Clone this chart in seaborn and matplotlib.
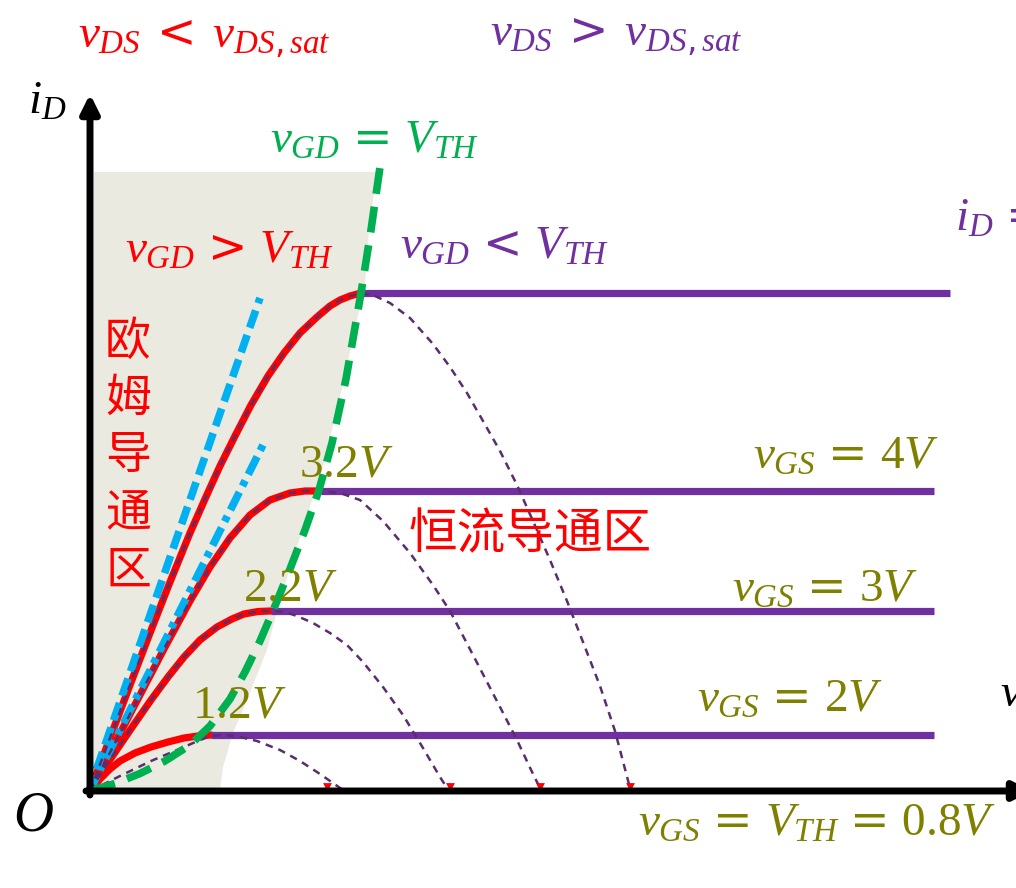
import matplotlib
matplotlib.use("Agg")
import matplotlib.pyplot as plt
import seaborn as sns

# ---- data (v_DS, i_D in drawing units, origin at the axes corner) ----
# saturation (knee) values of each output curve
sat_labels = ["1.2V", "2.2V", "3.2V", ""]
gs_labels = ["2V", "3V", "4V", ""]
sat_x = [121, 181, 231, 271]
sat_y = [56, 180, 300, 498]
flat_end = [844, 844, 844, 860]

# triode-region (ohmic) branches, origin -> knee
tri_x = [
    [0, 10, 20, 30, 45, 61, 78, 94, 108, 121],
    [0, 15, 30, 45, 61, 78, 94, 110, 127, 142, 154, 168, 181],
    [0, 25, 50, 75, 100, 120, 140, 160, 180, 200, 215, 231],
    [0, 20, 40, 60, 80, 100, 115, 130, 145, 161, 178, 194, 210, 227, 240, 250,
     260, 271],
]
tri_y = [
    [0, 12, 22, 30, 38, 44, 49, 53, 55, 56],
    [0, 24, 46, 68, 91, 114, 134, 151, 164, 172, 177, 179.5, 180],
    [0, 48, 96, 144, 190, 224, 253, 276, 291, 298, 300, 300],
    [0, 53, 106, 158, 209, 258, 292, 325, 355, 386, 415, 438, 458, 474, 485,
     491, 495, 498],
]
# full quadratic curves (dashed), continuing past the knee down to the axis
par_x = [
    [0, 30, 61, 94, 110, 121, 135, 150, 167, 190, 210, 230, 253],
    tri_x[1] + [195, 207, 223, 240, 257, 273, 293, 313, 333, 350, 357],
    tri_x[2] + [250, 270, 293, 320, 343, 360, 383, 410, 427, 443, 450],
    tri_x[3] + [285, 300, 320, 343, 360, 377, 393, 410, 427, 443, 460, 477,
                493, 510, 525, 540],
]
par_y = [
    [0, 15, 30, 44, 51, 55, 56, 54, 50, 41, 30, 17, 1],
    tri_y[1] + [179, 175, 168, 158, 146, 129, 104, 76, 43, 14, 3],
    tri_y[2] + [298, 291, 270, 238, 206, 180, 136, 84, 51, 17, 3],
    tri_y[3] + [495, 488, 473, 447, 424, 398, 370, 340, 306, 270, 231, 190,
                149, 105, 60, 3],
]
# zero crossings marked on the v_DS axis
root_x = [237, 360, 450, 540]

# boundary v_GD = V_TH
gd_x = [0, 25, 50, 75, 100, 120, 140, 155, 170, 185, 200, 215, 229, 242, 256,
        271, 281, 290]
gd_y = [0, 7.5, 17.5, 30, 46, 65, 92, 119, 150, 185, 222, 261, 301, 348, 412,
        498, 561, 624]

# ohmic-region shading outline
shade_x = [4, 288, 280, 275, 254, 234, 207, 190, 177, 157, 143, 133, 130, 4]
shade_y = [619, 619, 574, 508, 411, 328, 244, 191, 141, 91, 58, 24, 1, 1]

# small-signal resistance lines through the origin
tan_x = [[-2, 170], [-2, 173]]
tan_y = [[-3, 493], [-3, 346]]

RED = "#FF0000"
PURPLE = "#7030A0"
DPURPLE = "#5A2D6E"
GREEN = "#00B050"
BLUE = "#00B0F0"
OLIVE = "#7F7F00"
SHADE = "#EAEAE0"

sns.set_theme(style="white")
plt.rcParams["font.family"] = ["Noto Sans CJK SC", "DejaVu Sans"]
# italic letters and digits in a serif face, relation signs from DejaVu Sans
plt.rcParams["mathtext.fontset"] = "custom"
plt.rcParams["mathtext.it"] = "Liberation Serif:italic"
plt.rcParams["mathtext.rm"] = "DejaVu Sans"
plt.rcParams["mathtext.sf"] = "Liberation Serif"
plt.rcParams["mathtext.bf"] = "Liberation Serif:bold"

fig = plt.figure(figsize=(10.16, 8.88), dpi=100)
ax = fig.add_axes([0, 0, 1, 1])
ax.set_xlim(-90, 926)
ax.set_ylim(-97, 791)
ax.axis("off")

# shaded ohmic region
ax.fill(shade_x, shade_y, color=SHADE, lw=0, zorder=1)

# tangent (resistance) lines
sns.lineplot(x=tan_x[0], y=tan_y[0], ax=ax, color=BLUE, lw=5.5, sort=False,
             estimator=None, zorder=4)
ax.lines[-1].set_dashes([2.4, 1.0])
ax.lines[-1].set_dash_capstyle("butt")
sns.lineplot(x=tan_x[1], y=tan_y[1], ax=ax, color=BLUE, lw=5.5, sort=False,
             estimator=None, zorder=4)
ax.lines[-1].set_dashes([2.6, 0.9, 0.8, 0.9])
ax.lines[-1].set_dash_capstyle("butt")

for i in range(4):
    # ohmic branch
    sns.lineplot(x=tri_x[i], y=tri_y[i], ax=ax, color=RED, lw=5.2, sort=False,
                 estimator=None, zorder=3, solid_capstyle="round",
                 solid_joinstyle="round")
    # saturation branch
    sns.lineplot(x=[sat_x[i], flat_end[i]], y=[sat_y[i], sat_y[i]], ax=ax,
                 color=PURPLE, lw=5.2, sort=False, estimator=None, zorder=3,
                 solid_capstyle="butt")
    # quadratic continuation
    sns.lineplot(x=par_x[i], y=par_y[i], ax=ax, color=DPURPLE, lw=1.8,
                 sort=False, estimator=None, zorder=5)
    ax.lines[-1].set_dashes([3.0, 2.4])

# boundary curve
sns.lineplot(x=gd_x, y=gd_y, ax=ax, color=GREEN, lw=5.5, sort=False,
             estimator=None, zorder=6)
ax.lines[-1].set_dashes([3.4, 1.7])
ax.lines[-1].set_dash_capstyle("butt")

# zero-crossing markers
ax.scatter(root_x, [4] * len(root_x), marker="v", s=40, color=RED, lw=0, zorder=7)

# axes with arrows
ax.annotate("", xy=(0, 697), xytext=(0, -4),
            arrowprops=dict(arrowstyle="-|>,head_length=0.9,head_width=0.45",
                            lw=5, color="black", shrinkA=0, shrinkB=0),
            zorder=8, annotation_clip=False)
ax.annotate("", xy=(942, 0), xytext=(-4, 0),
            arrowprops=dict(arrowstyle="-|>,head_length=0.9,head_width=0.45",
                            lw=5, color="black", shrinkA=0, shrinkB=0),
            zorder=8, annotation_clip=False)

MS = 34  # math label size


def mtext(x, y, s, color, size=MS, ha="left", va="center", z=9):
    ax.text(x, y, s, color=color, fontsize=size, ha=ha, va=va, zorder=z)


def num(s):
    # upright serif digits followed by an italic unit letter
    return r"\mathsf{" + s[:-1] + "}" + s[-1]


mtext(-12, 755, r"$v_{DS}\;<\;v_{DS,sat}$", RED)
mtext(400, 757, r"$v_{DS}\;>\;v_{DS,sat}$", PURPLE)
mtext(-62, 691, r"$i_D$", "black")
mtext(180, 652, r"$v_{GD}\,=\,V_{TH}$", GREEN)
mtext(35, 542, r"$v_{GD}\,>\,V_{TH}$", RED)
mtext(310, 546, r"$v_{GD}\,<\,V_{TH}$", PURPLE)
mtext(865, 574, r"$i_D\,=$", PURPLE)
mtext(-57, -24, r"$O$", "black", size=40, ha="center")
mtext(910, 98, r"$v$", "black")

# knee voltage labels and gate-voltage labels
sat_pos = [(102, 87), (153, 204), (209, 328)]
for (x, y), lab in zip(sat_pos, sat_labels[:3]):
    mtext(x, y, "$" + num(lab) + "$", OLIVE)
gs_pos = [(607, 93), (642, 203), (663, 336)]
for (x, y), lab in zip(gs_pos, gs_labels[:3]):
    mtext(x, y, r"$v_{GS}\,=\," + num(lab) + "$", OLIVE)
mtext(548, -31, r"$v_{GS}\,=\,V_{TH}\,=\," + num("0.8V") + "$", OLIVE)

# region names
for k, ch in enumerate("欧姆导通区"):
    ax.text(38, 449 - k * 57, ch, color=RED, fontsize=33, ha="center",
            va="center", zorder=9)
ax.text(440, 256, "恒流导通区", color=RED, fontsize=35, ha="center",
        va="center", zorder=9)

fig.savefig("out.png", dpi=100)
